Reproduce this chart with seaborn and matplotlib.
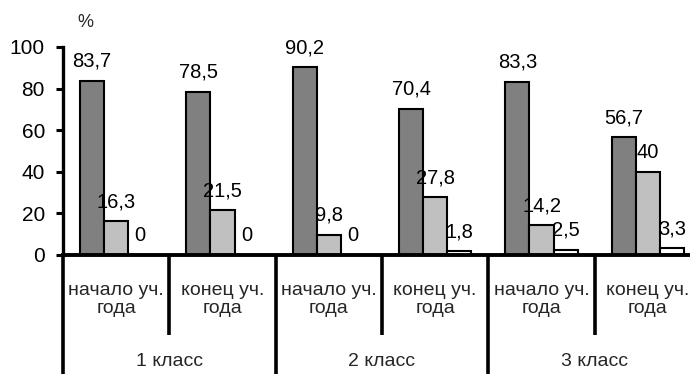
import numpy as np
import pandas as pd
import matplotlib
matplotlib.use("Agg")
import matplotlib.pyplot as plt
import seaborn as sns

# Categories along the x axis: start / end of school year for each grade
periods = ["начало уч.\nгода", "конец уч.\nгода"] * 3
grades = ["1 класс", "2 класс", "3 класс"]

# Shares (%) for the three groups at each point in time
series_names = ["s1", "s2", "s3"]
values_dark = [83.7, 78.5, 90.2, 70.4, 83.3, 56.7]
values_light = [16.3, 21.5, 9.8, 27.8, 14.2, 40.0]
values_white = [0.0, 0.0, 0.0, 1.8, 2.5, 3.3]

y_ticks = [0, 20, 40, 60, 80, 100]

colors = ["#808080", "#c0c0c0", "#ffffff"]

rows = []
for name, vals in zip(series_names, [values_dark, values_light, values_white]):
    for i, v in enumerate(vals):
        rows.append({"pos": i, "series": name, "value": v})
df = pd.DataFrame(rows)

sns.set_theme(style="white")
plt.rcParams["font.family"] = ["Liberation Sans", "DejaVu Sans"]

fig = plt.figure(figsize=(6.9, 3.74), dpi=100)
ax = fig.add_axes([63 / 690, 119 / 374, 638 / 690, 208 / 374])

sns.barplot(data=df, x="pos", y="value", hue="series", palette=colors,
            width=0.68, edgecolor="black", linewidth=1.5, saturation=1,
            legend=False, ax=ax, order=list(range(6)))

ax.set_xlim(-0.5, 5.5)
ax.set_ylim(0, 100)
ax.set_yticks(y_ticks)
ax.set_yticklabels([str(t) for t in y_ticks], fontsize=15)
ax.tick_params(axis="y", direction="out", length=5, width=2.2, pad=8,
               left=True, colors="black")
ax.tick_params(axis="x", length=0, labelbottom=False)
ax.set_xlabel("")
ax.set_ylabel("")

for side in ["top", "right"]:
    ax.spines[side].set_visible(False)
ax.spines["left"].set_linewidth(2.4)
ax.spines["bottom"].set_linewidth(2.8)
ax.spines["left"].set_color("black")
ax.spines["bottom"].set_color("black")

# Value labels above each bar
for container in ax.containers:
    labels = [f"{v:g}".replace(".", ",") for v in container.datavalues]
    for rect, lab in zip(container, labels):
        x = rect.get_x() + rect.get_width() / 2
        h = rect.get_height()
        ax.annotate(lab, xy=(x, h), xytext=(0, 14), textcoords="offset points",
                    ha="center", va="center", fontsize=14.5, color="black",
                    annotation_clip=False)

ax.text(-0.29, 112, "%", fontsize=13, ha="center", va="center",
        clip_on=False)

# Category separators below the axis
for xb in [0.5, 2.5, 4.5]:
    ax.plot([xb, xb], [0, -38.5], color="black", lw=2.6, clip_on=False,
            solid_capstyle="butt")
for xb in [-0.5, 1.5, 3.5, 5.5]:
    ax.plot([xb, xb], [0, -65], color="black", lw=2.6, clip_on=False,
            solid_capstyle="butt")

for i, lab in enumerate(periods):
    ax.text(i, -21.5, lab, ha="center", va="center", fontsize=14,
            linespacing=1.1, clip_on=False)
for g, lab in enumerate(grades):
    ax.text(2 * g + 0.5, -51, lab, ha="center", va="center", fontsize=14,
            clip_on=False)

fig.savefig("out.png", dpi=100, facecolor="white")
